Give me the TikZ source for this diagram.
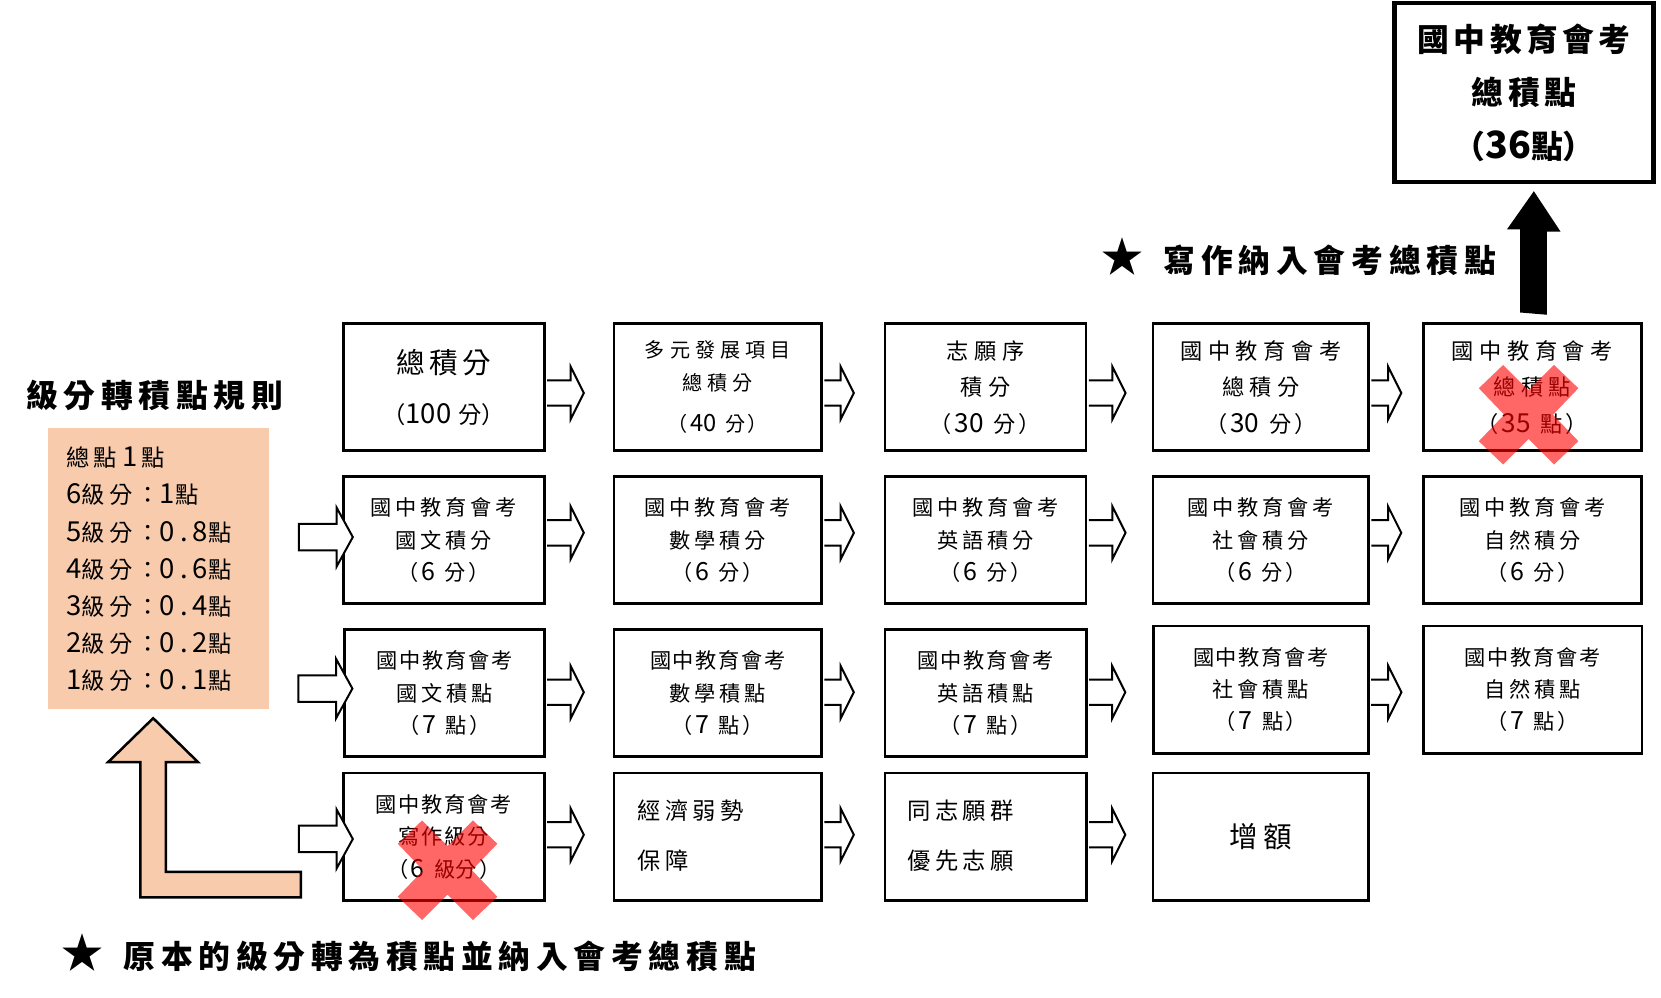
\documentclass[tikz,border=0pt]{standalone}
\usepackage{fontspec}
\setmainfont{Noto Sans CJK TC}
\newfontfamily\cjk{Noto Sans CJK TC}
\newfontfamily\cjkA[LetterSpace=25]{Noto Sans CJK TC}
\newfontfamily\cjkB[LetterSpace=18]{Noto Sans CJK TC}
\newfontfamily\cjkC[LetterSpace=8]{Noto Sans CJK TC}
\newfontfamily\cjkD[LetterSpace=14]{Noto Sans CJK TC}
\newcommand\dg[1]{{\addfontfeatures{Scale=1.18}#1}}
\newcommand\pl[1]{{\cjk #1}}
\newcommand\pr[2]{{\cjk （\hspace{0.12em}\dg{#1}\hspace{0.45em}#2\hspace{0.12em}）}}
\newcommand\bigstar{{\cjk\fontsize{42pt}{42pt}\selectfont ★}}
\usetikzlibrary{calc}
\definecolor{peach}{HTML}{F8CBAD}
\tikzset{
  box/.style={draw=black, line width=2.8pt, inner sep=0pt, align=center},
  hollow/.style={draw=black, fill=white, line width=2pt, line join=miter},
  redx/.style={fill=red, fill opacity=0.6, draw=none},
  fA/.style={font=\cjkA\fontsize{22.2pt}{36.5pt}\selectfont},
  fAs/.style={font=\cjkA\fontsize{20.1pt}{32.8pt}\selectfont},
  fB/.style={font=\cjkB\fontsize{21.2pt}{32.8pt}\selectfont},
  fBt/.style={font=\cjkB\fontsize{21.2pt}{31.8pt}\selectfont},
  fC/.style={font=\cjkC\fontsize{21.2pt}{32.3pt}\selectfont},
}
\newcommand\bx[7][]{\node[box,#1,minimum width={(#5-#3)*1.05931pt},minimum height={(#6-#4)*1.05931pt}] (#2) at ({(#3+#5)/2},{(#4+#6)/2}) {#7};}
\newcommand\rarrow[3]{\filldraw[hollow] ($(#1.east)+(1.3,{#2-12})$) -- ++({#3-13.8},0) -- ++(0,-13) -- ++(12.5,25) -- ++(-12.5,25) -- ++(0,-13) -- ++({13.8-#3},0);}
\newcommand\larrow[3]{\filldraw[hollow] ($(#1.west)+(#2,{#3-12.5})$) -- ++(35.6,0) -- ++(0,-15.5) -- ++(15.4,28) -- ++(-15.4,28) -- ++(0,-15.5) -- ++(-35.6,0) -- cycle;}
\newcommand\redcross[1]{\fill[redx, shift={(#1)}] (-47,-25) -- (-24,-47) -- (0,-23) -- (24,-47) -- (47,-25) -- (23,0) -- (47,25) -- (24,47) -- (0,23) -- (-24,47) -- (-47,25) -- (-23,0) -- cycle;}
\begin{document}
\begin{tikzpicture}[x=1.05931pt,y=-1.05931pt]
\useasboundingbox (0,0) rectangle (1568,941.2);
\fill[white] (0,0) rectangle (1568,941.2);

% rules panel
\node[fill=peach, inner sep=0pt, minimum width={208*1.05931pt}, minimum height={265.3*1.05931pt}] (rules) at (149.5,536.35) {};
\node[anchor=west, inner sep=0pt, align=left, font=\cjkB\fontsize{23.3pt}{37.2pt}\selectfont] (rulestext) at (62.5,537.5)
  {總點\hspace{5pt}\dg{1}\hspace{4pt}點\\\dg{6}級分：\dg{1}點\\\dg{5}級分：\dg{0.8}點\\\dg{4}級分：\dg{0.6}點\\\dg{3}級分：\dg{0.4}點\\\dg{2}級分：\dg{0.2}點\\\dg{1}級分：\dg{0.1}點};
\node[anchor=west, inner sep=0pt, font=\cjkB\bfseries\fontsize{31.8pt}{36pt}\selectfont] (title) at (24.5,373.7) {級分轉積點規則};

% L-shaped arrow
\filldraw[fill=peach, draw=black, line width=2.5pt, line join=miter] (144.6,678) -- (187,719.5) -- (156.5,719.5) -- (156.5,823) -- (284,823) -- (284,847) -- (132.5,847) -- (132.5,719.5) -- (102,719.5) -- cycle;

% top box
\bx[line width=4.3pt, font=\cjkD\bfseries\fontsize{31.8pt}{53.6pt}\selectfont]{b0}{1316.5}{3.1}{1561}{171.5}{國中教育會考\\總積點\\\pl{（\dg{36}點）}}

% row 1
\bx[font=\cjk\fontsize{23.3pt}{49.8pt}\selectfont]{b11}{324}{305.5}{513.8}{425.6}{{\cjkD\fontsize{28.6pt}{49.8pt}\selectfont 總積分}\\（\dg{100}\hspace{0.3em}分）}
\bx[fAs]{b12}{579.6}{305.5}{775.7}{425.6}{多元發展項目\\總積分\\[8.5pt]\pr{40}{分}}
\bx[fA]{b13}{835.4}{305.5}{1025.2}{425.6}{志願序\\積分\\\pr{30}{分}}
\bx[fA]{b14}{1088.5}{305.5}{1292}{425.6}{國中教育會考\\總積分\\\pr{30}{分}}
\bx[fA]{b15}{1343.5}{305.5}{1549.5}{425.6}{國中教育會考\\總積點\\\pr{35}{點}}

% row 2
\bx[fB]{b21}{324}{450}{513.8}{569.5}{國中教育會考\\國文積分\\\pr{6}{分}}
\bx[fB]{b22}{579.6}{450}{775.7}{569.5}{國中教育會考\\數學積分\\\pr{6}{分}}
\bx[fB]{b23}{835.4}{450}{1025.2}{569.5}{國中教育會考\\英語積分\\\pr{6}{分}}
\bx[fB]{b24}{1088.5}{450}{1292}{569.5}{國中教育會考\\社會積分\\\pr{6}{分}}
\bx[fB]{b25}{1343.5}{450}{1549.5}{569.5}{國中教育會考\\自然積分\\\pr{6}{分}}

% row 3
\bx[fB]{b31}{325.3}{594.5}{513.8}{714}{{\cjkC 國中教育會考}\\國文積點\\\pr{7}{點}}
\bx[fB]{b32}{579.6}{594.5}{775.7}{714}{{\cjkC 國中教育會考}\\數學積點\\\pr{7}{點}}
\bx[fB]{b33}{835.4}{594.5}{1025.5}{714}{{\cjkC 國中教育會考}\\英語積點\\\pr{7}{點}}
\bx[fBt]{b34}{1089}{591}{1291.6}{711}{{\cjkC 國中教育會考}\\社會積點\\\pr{7}{點}}
\bx[fBt]{b35}{1343.7}{591}{1550}{711}{{\cjkC 國中教育會考}\\自然積點\\\pr{7}{點}}

% row 4
\bx[fC]{b41}{324}{729.8}{513.8}{850}{國中教育會考\\寫作級分\\\pr{6}{級分}}
\bx{b42}{579.6}{729.8}{775.7}{850}{}
\bx{b43}{835.4}{729.8}{1025.5}{850}{}
\bx[font=\cjkB\fontsize{28.6pt}{30pt}\selectfont]{b44}{1088.5}{729.8}{1291.6}{850}{增額}
\node[anchor=west, inner sep=0pt, align=left, font=\cjkB\fontsize{23.3pt}{49.8pt}\selectfont] (t42) at ($(b42.west)+(23.4,-1.3)$) {經濟弱勢\\保障};
\node[anchor=west, inner sep=0pt, align=left, font=\cjkB\fontsize{23.3pt}{49.8pt}\selectfont] (t43) at ($(b43.west)+(22.6,-1.3)$) {同志願群\\優先志願};

% row arrows
\rarrow{b11}{5.45}{36}
\rarrow{b12}{5.45}{29}
\rarrow{b13}{5.45}{36}
\rarrow{b14}{5.45}{29.5}
\rarrow{b21}{-6.75}{36}
\rarrow{b22}{-6.75}{29}
\rarrow{b23}{-6.75}{36}
\rarrow{b24}{-6.75}{29.5}
\rarrow{b31}{-0.75}{36}
\rarrow{b32}{-0.75}{29}
\rarrow{b33}{-0.75}{35.5}
\rarrow{b34}{2.5}{30}
\rarrow{b41}{-1.9}{36}
\rarrow{b42}{-1.9}{29}
\rarrow{b43}{-1.9}{35.5}

% left input arrows
\larrow{b21}{-40.6}{-2.75}
\larrow{b31}{-42.3}{-4.25}
\larrow{b41}{-40.6}{2.1}

% red crosses
\redcross{422.5,821.5}
\redcross{1443,391.5}

% black arrow up to total box
\coordinate (bstart) at (1447.7,295);
\fill[black] ($(bstart)+(-12.7,0)$) -- ++(0,-78.5) -- ++(-12.4,0) -- ($(b0.south)+(9.2,7)$) -- ++(25.2,38.1) -- ++(-12.8,0) -- ++(0,78.5) -- cycle;

% notes
\node[anchor=west, inner sep=0pt, font=\cjkB\bfseries\fontsize{31.8pt}{36pt}\selectfont] (note1) at (1040,242) {\bigstar\hspace{20pt}寫作納入會考總積點};
\node[anchor=west, inner sep=0pt, font=\cjkB\bfseries\fontsize{31.8pt}{36pt}\selectfont] (note2) at (58,900) {\bigstar\hspace{20pt}原本的級分轉為積點並納入會考總積點};
\end{tikzpicture}
\end{document}
